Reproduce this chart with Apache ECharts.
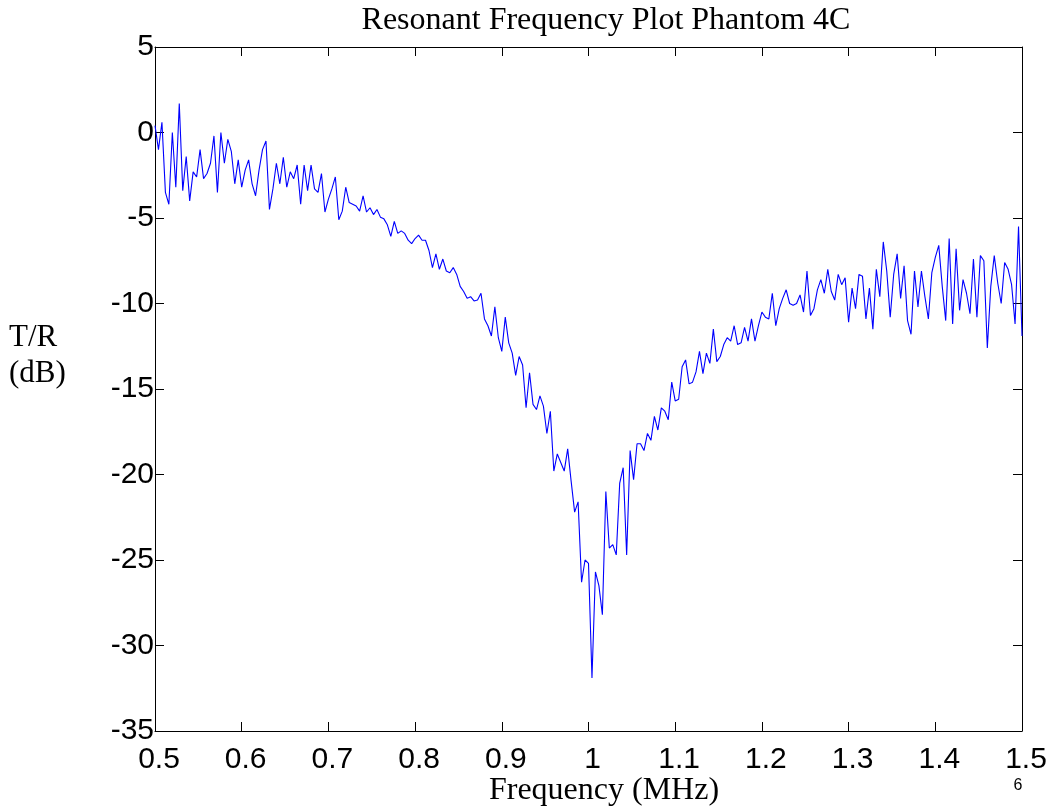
<!DOCTYPE html>
<html>
<head>
<meta charset="utf-8">
<script src="https://cdn.jsdelivr.net/npm/echarts@6/dist/echarts.min.js"></script>
<style>
html,body{margin:0;padding:0;background:#fff;}
#chart{width:1054px;height:810px;}
</style>
</head>
<body>
<div id="chart"></div>
<script>
// Sampling grid (MHz)
var freqStart = 0.5;
var freqStep = 0.004;
// T/R (dB)
var trDb = [
  0.4, -1.0, 0.6, -3.5, -4.2, 0.0, -3.2, 1.7, -3.4, -1.4,
  -4.0, -2.3, -2.6, -1.0, -2.7, -2.4, -1.8, -0.2, -3.5, 0.0,
  -1.8, -0.4, -1.1, -3.0, -1.6, -3.2, -2.2, -1.6, -3.0, -3.7,
  -2.2, -1.0, -0.5, -4.5, -3.3, -1.8, -3.0, -1.45, -3.2, -2.3,
  -2.7, -1.9, -4.2, -1.9, -3.4, -1.9, -3.3, -3.5, -2.4, -4.65,
  -3.9, -3.3, -2.6, -5.1, -4.6, -3.2, -4.1, -4.2, -4.3, -4.6,
  -3.7, -4.65, -4.4, -4.8, -4.5, -4.95, -5.05, -5.4, -6.07, -5.2,
  -5.9, -5.75, -5.9, -6.3, -6.5, -6.2, -6.0, -6.3, -6.3, -6.9,
  -7.9, -7.1, -8.0, -7.4, -8.1, -8.2, -7.9, -8.3, -9.0, -9.3,
  -9.7, -9.6, -9.85, -9.8, -9.4, -10.9, -11.3, -11.9, -10.2, -12.0,
  -12.8, -10.8, -12.3, -12.9, -14.2, -13.1, -13.6, -16.1, -14.05, -15.9,
  -16.2, -15.4, -16.0, -17.6, -16.3, -19.8, -18.8, -19.3, -19.8, -18.5,
  -20.4, -22.2, -21.6, -26.3, -25.0, -25.2, -31.9, -25.7, -26.5, -28.2,
  -21.0, -24.3, -24.1, -24.7, -20.5, -19.6, -24.7, -18.6, -20.3, -18.2,
  -18.2, -18.6, -17.6, -18.0, -16.6, -17.4, -16.1, -16.3, -16.8, -14.6,
  -15.7, -15.6, -13.7, -13.3, -14.7, -14.6, -14.0, -12.8, -14.1, -12.9,
  -13.5, -11.5, -13.4, -13.1, -12.4, -12.0, -12.2, -11.3, -12.4, -12.3,
  -11.4, -12.2, -10.9, -12.2, -11.3, -10.5, -10.8, -10.9, -9.4, -11.3,
  -10.3, -9.7, -9.2, -10.0, -10.1, -10.0, -9.5, -10.5, -8.1, -10.7,
  -10.3, -9.2, -8.6, -9.4, -8.0, -9.3, -9.8, -8.3, -8.9, -8.5,
  -11.1, -9.1, -10.3, -8.3, -8.4, -10.9, -9.1, -11.5, -8.0, -9.6,
  -6.4, -8.1, -10.8, -8.3, -7.1, -9.7, -7.8, -11.0, -11.8, -8.1,
  -10.2, -8.1, -9.6, -10.9, -8.2, -7.3, -6.6, -9.0, -11.0, -6.2,
  -11.2, -6.8, -10.4, -8.6, -9.4, -10.6, -7.4, -10.8, -7.2, -7.5,
  -12.6, -9.0, -7.2, -8.8, -10.0, -7.6, -8.0, -8.9, -11.2, -5.5, -11.9
];
var xTicks = { min: 0.5, max: 1.5, step: 0.1 };
var yTicks = { min: -35, max: 5, step: 5 };
var titleText = 'Resonant Frequency Plot Phantom 4C';
var xName = 'Frequency (MHz)';
var yNameLines = ['T/R', '(dB)'];
var pageNo = '6';

var seriesData = trDb.map(function (v, i) {
  return [+(freqStart + i * freqStep).toFixed(4), v];
});

var chart = echarts.init(document.getElementById('chart'), null, { renderer: 'canvas' });
var sansFont = '"Liberation Sans", Arial, Helvetica, sans-serif';
var serifFont = '"Liberation Serif", "Times New Roman", serif';
var tickStyle = { show: true, inside: true, length: 9, lineStyle: { color: '#000', width: 1 } };
var lineStyle = { show: true, onZero: false, lineStyle: { color: '#000', width: 1 } };

chart.setOption({
  animation: false,
  backgroundColor: '#fff',
  grid: { left: 155, top: 47, width: 867, height: 684, outerBoundsMode: 'none', containLabel: false },
  xAxis: [
    {
      type: 'value', position: 'bottom', min: xTicks.min, max: xTicks.max, interval: xTicks.step,
      axisLine: lineStyle, axisTick: tickStyle, splitLine: { show: false },
      axisLabel: {
        show: true, showMinLabel: true, showMaxLabel: true, hideOverlap: false,
        color: '#000', fontFamily: sansFont, fontSize: 30, margin: 14, padding: [0, 0, 0, 8],
        formatter: function (v) { return String(+v.toFixed(1)); }
      }
    },
    {
      type: 'value', position: 'top', min: xTicks.min, max: xTicks.max, interval: xTicks.step,
      axisLine: lineStyle, axisTick: tickStyle, splitLine: { show: false }, axisLabel: { show: false }
    }
  ],
  yAxis: [
    {
      type: 'value', position: 'left', min: yTicks.min, max: yTicks.max, interval: yTicks.step,
      axisLine: lineStyle, axisTick: tickStyle, splitLine: { show: false },
      axisLabel: {
        show: true, showMinLabel: true, showMaxLabel: true, hideOverlap: false,
        color: '#000', fontFamily: sansFont, fontSize: 30, margin: 1, padding: [10, 0, 0, 0]
      }
    },
    {
      type: 'value', position: 'right', min: yTicks.min, max: yTicks.max, interval: yTicks.step,
      axisLine: lineStyle, axisTick: tickStyle, splitLine: { show: false }, axisLabel: { show: false }
    }
  ],
  series: [{
    type: 'line',
    xAxisIndex: 0, yAxisIndex: 0,
    data: seriesData,
    showSymbol: false,
    symbol: 'none',
    lineStyle: { color: '#0000ff', width: 1.1 },
    itemStyle: { color: '#0000ff' },
    z: 1
  }],
  graphic: [
    { type: 'text', x: 606, y: 21, style: { text: titleText, font: '32px ' + serifFont, fill: '#000', textAlign: 'center', textVerticalAlign: 'middle' } },
    { type: 'text', x: 604, y: 791, style: { text: xName, font: '32px ' + serifFont, fill: '#000', textAlign: 'center', textVerticalAlign: 'middle' } },
    { type: 'text', x: 9, y: 338, style: { text: yNameLines[0], font: '31px ' + serifFont, fill: '#000', textAlign: 'left', textVerticalAlign: 'middle' } },
    { type: 'text', x: 9, y: 374, style: { text: yNameLines[1], font: '31px ' + serifFont, fill: '#000', textAlign: 'left', textVerticalAlign: 'middle' } },
    { type: 'text', x: 1018, y: 786, style: { text: pageNo, font: '16px ' + sansFont, fill: '#000', textAlign: 'center', textVerticalAlign: 'middle' } }
  ]
});
</script>
</body>
</html>
